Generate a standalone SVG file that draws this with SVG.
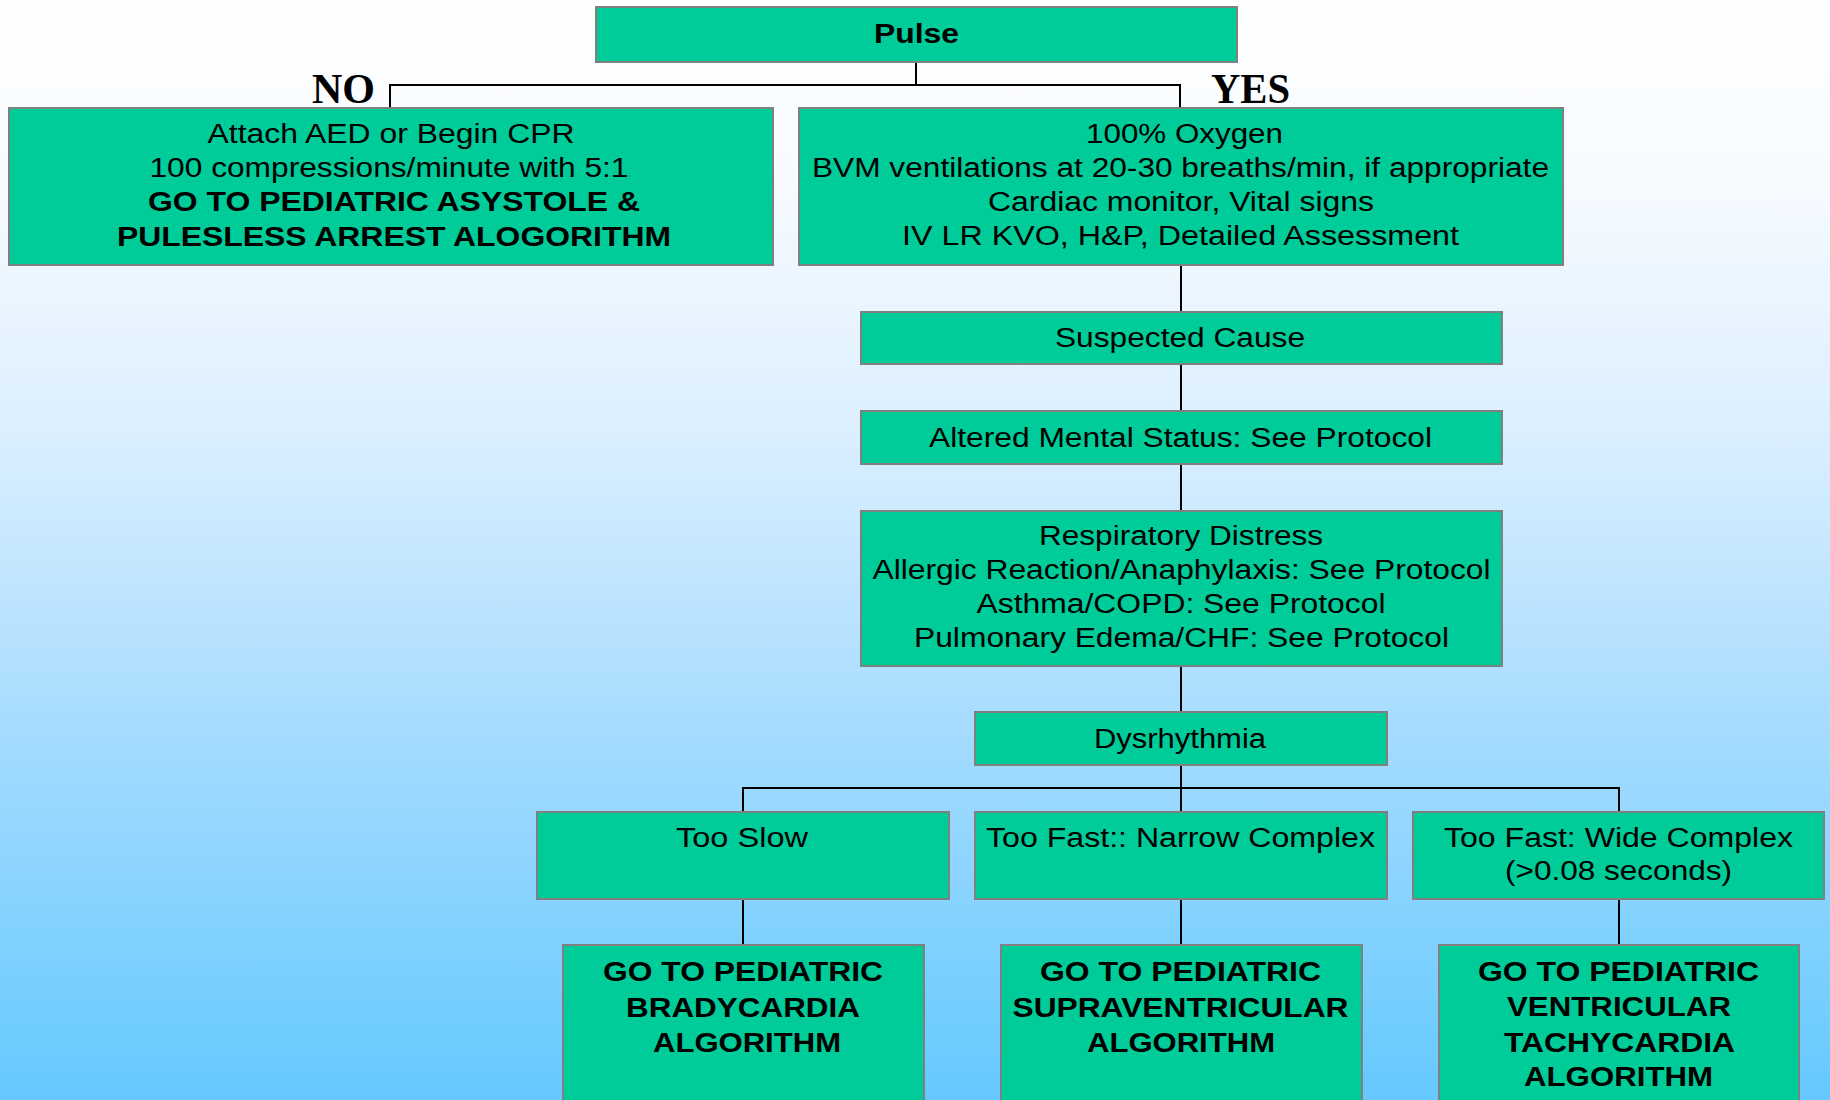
<svg xmlns="http://www.w3.org/2000/svg" width="1830" height="1100" viewBox="0 0 1830 1100">
<defs>
<linearGradient id="bg" x1="0" y1="0" x2="0" y2="1">
<stop offset="0" stop-color="#ffffff"/>
<stop offset="0.16" stop-color="#f7fbff"/>
<stop offset="0.39" stop-color="#dcefff"/>
<stop offset="0.66" stop-color="#a6dcff"/>
<stop offset="0.96" stop-color="#6ccbff"/>
<stop offset="1" stop-color="#66c8ff"/>
</linearGradient>
<style>
.box{fill:#00cc99;stroke:#808080;stroke-width:2}
.t{font-family:"Liberation Sans",Arial,sans-serif;font-size:27px;fill:#000;text-anchor:middle}
.b{font-weight:bold}
.lbl{font-family:"Liberation Serif","Times New Roman",serif;font-size:42px;font-weight:bold;fill:#000}
.con{fill:none;stroke:#000;stroke-width:2}
</style>
</defs>
<rect x="0" y="0" width="1830" height="1100" fill="url(#bg)"/>

<g id="connectors">
<path class="con" d="M916,62 V85"/>
<path class="con" d="M390,108 V85 H1180 V108"/>
<path class="con" d="M1181,265 V312"/>
<path class="con" d="M1181,364 V411"/>
<path class="con" d="M1181,464 V511"/>
<path class="con" d="M1181,666 V712"/>
<path class="con" d="M1181,765 V812"/>
<path class="con" d="M743,812 V788 H1619 V812"/>
<path class="con" d="M743,899 V945"/>
<path class="con" d="M1181,899 V945"/>
<path class="con" d="M1619,899 V945"/>
</g>

<text class="lbl" x="312" y="103" textLength="63" lengthAdjust="spacingAndGlyphs">NO</text>
<text class="lbl" x="1211" y="103" textLength="79" lengthAdjust="spacingAndGlyphs">YES</text>

<g id="pulse">
<rect class="box" x="596" y="7" width="641" height="55"/>
<text class="t b" x="916.5" y="43" textLength="85" lengthAdjust="spacingAndGlyphs">Pulse</text>
</g>

<g id="aed">
<rect class="box" x="9" y="108" width="764" height="157"/>
<text class="t" x="391" y="143" textLength="367" lengthAdjust="spacingAndGlyphs">Attach AED or Begin CPR</text>
<text class="t" x="389" y="177" textLength="479" lengthAdjust="spacingAndGlyphs">100 compressions/minute with 5:1</text>
<text class="t b" x="394" y="211" textLength="492" lengthAdjust="spacingAndGlyphs">GO TO PEDIATRIC ASYSTOLE &amp;</text>
<text class="t b" x="394" y="246" textLength="554" lengthAdjust="spacingAndGlyphs">PULESLESS ARREST ALOGORITHM</text>
</g>

<g id="oxygen">
<rect class="box" x="799" y="108" width="764" height="157"/>
<text class="t" x="1184.5" y="143" textLength="197" lengthAdjust="spacingAndGlyphs">100% Oxygen</text>
<text class="t" x="1180.5" y="177" textLength="737" lengthAdjust="spacingAndGlyphs">BVM ventilations at 20-30 breaths/min, if appropriate</text>
<text class="t" x="1181" y="211" textLength="386" lengthAdjust="spacingAndGlyphs">Cardiac monitor, Vital signs</text>
<text class="t" x="1180.5" y="245" textLength="557" lengthAdjust="spacingAndGlyphs">IV LR KVO, H&amp;P, Detailed Assessment</text>
</g>

<g id="suspected">
<rect class="box" x="861" y="312" width="641" height="52"/>
<text class="t" x="1180" y="347" textLength="250" lengthAdjust="spacingAndGlyphs">Suspected Cause</text>
</g>

<g id="altered">
<rect class="box" x="861" y="411" width="641" height="53"/>
<text class="t" x="1180.5" y="447" textLength="503" lengthAdjust="spacingAndGlyphs">Altered Mental Status: See Protocol</text>
</g>

<g id="respiratory">
<rect class="box" x="861" y="511" width="641" height="155"/>
<text class="t" x="1181" y="545" textLength="284" lengthAdjust="spacingAndGlyphs">Respiratory Distress</text>
<text class="t" x="1181.5" y="579" textLength="618" lengthAdjust="spacingAndGlyphs">Allergic Reaction/Anaphylaxis: See Protocol</text>
<text class="t" x="1181" y="613" textLength="409" lengthAdjust="spacingAndGlyphs">Asthma/COPD: See Protocol</text>
<text class="t" x="1181.5" y="647" textLength="535" lengthAdjust="spacingAndGlyphs">Pulmonary Edema/CHF: See Protocol</text>
</g>

<g id="dysrhythmia">
<rect class="box" x="975" y="712" width="412" height="53"/>
<text class="t" x="1180" y="748" textLength="172" lengthAdjust="spacingAndGlyphs">Dysrhythmia</text>
</g>

<g id="too-slow">
<rect class="box" x="537" y="812" width="412" height="87"/>
<text class="t" x="742" y="847" textLength="132" lengthAdjust="spacingAndGlyphs">Too Slow</text>
</g>

<g id="narrow">
<rect class="box" x="975" y="812" width="412" height="87"/>
<text class="t" x="1180.5" y="847" textLength="389" lengthAdjust="spacingAndGlyphs">Too Fast:: Narrow Complex</text>
</g>

<g id="wide">
<rect class="box" x="1413" y="812" width="411" height="87"/>
<text class="t" x="1618.5" y="847" textLength="349" lengthAdjust="spacingAndGlyphs">Too Fast: Wide Complex</text>
<text class="t" x="1618.5" y="880" textLength="227" lengthAdjust="spacingAndGlyphs">(&gt;0.08 seconds)</text>
</g>

<g id="brady">
<rect class="box" x="563" y="945" width="361" height="165"/>
<text class="t b" x="743" y="981" textLength="280" lengthAdjust="spacingAndGlyphs">GO TO PEDIATRIC</text>
<text class="t b" x="743" y="1017" textLength="234" lengthAdjust="spacingAndGlyphs">BRADYCARDIA</text>
<text class="t b" x="747" y="1052" textLength="188" lengthAdjust="spacingAndGlyphs">ALGORITHM</text>
</g>

<g id="svt">
<rect class="box" x="1001" y="945" width="361" height="165"/>
<text class="t b" x="1180.5" y="981" textLength="281" lengthAdjust="spacingAndGlyphs">GO TO PEDIATRIC</text>
<text class="t b" x="1180.5" y="1017" textLength="336" lengthAdjust="spacingAndGlyphs">SUPRAVENTRICULAR</text>
<text class="t b" x="1181" y="1052" textLength="188" lengthAdjust="spacingAndGlyphs">ALGORITHM</text>
</g>

<g id="vt">
<rect class="box" x="1439" y="945" width="360" height="165"/>
<text class="t b" x="1618.5" y="981" textLength="281" lengthAdjust="spacingAndGlyphs">GO TO PEDIATRIC</text>
<text class="t b" x="1619" y="1016" textLength="224" lengthAdjust="spacingAndGlyphs">VENTRICULAR</text>
<text class="t b" x="1619.5" y="1052" textLength="231" lengthAdjust="spacingAndGlyphs">TACHYCARDIA</text>
<text class="t b" x="1618.5" y="1086" textLength="189" lengthAdjust="spacingAndGlyphs">ALGORITHM</text>
</g>
</svg>
